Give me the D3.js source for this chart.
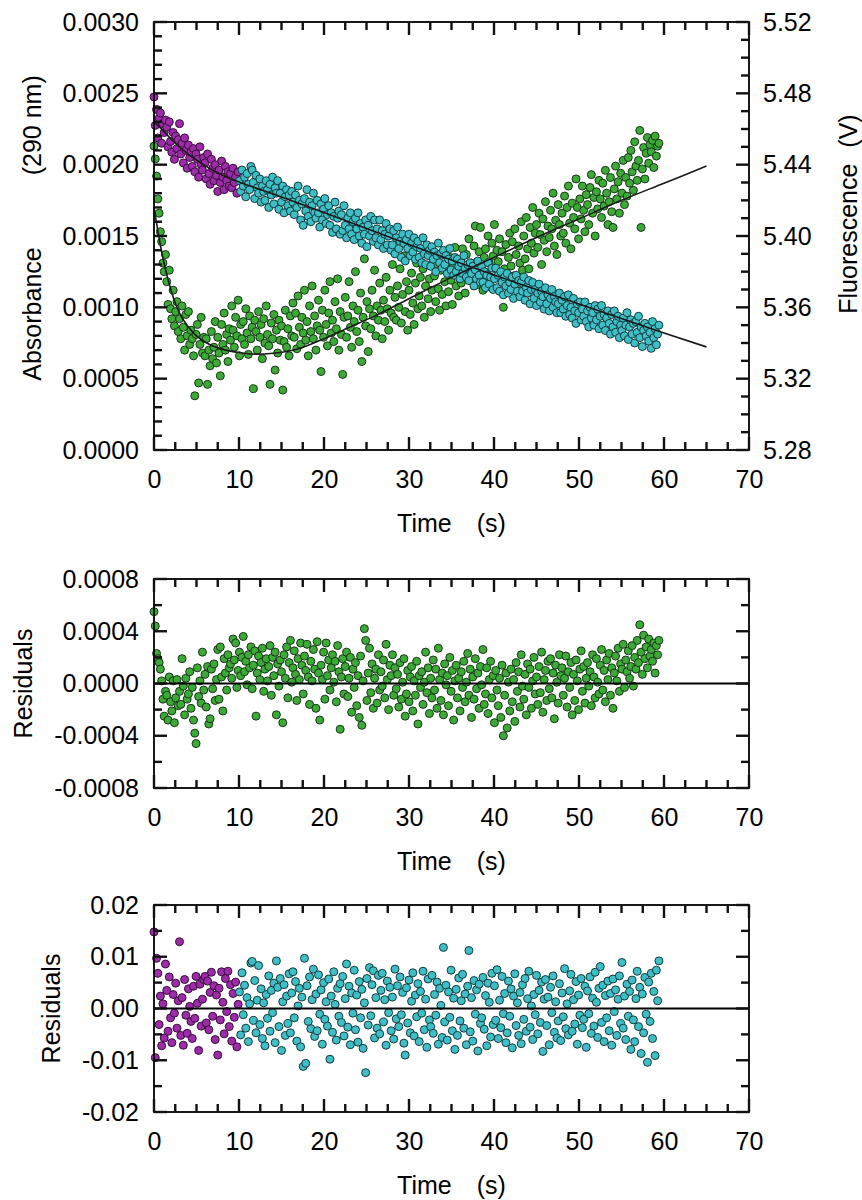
<!DOCTYPE html>
<html><head><meta charset="utf-8">
<script src="https://cdn.jsdelivr.net/npm/d3@7/dist/d3.min.js"></script>
<style>body{margin:0;background:#fff} svg{display:block}</style>
</head><body><svg id="c" width="862" height="1200" xmlns="http://www.w3.org/2000/svg"></svg>
<script>
const sampleInterval = 0.15;
const absStart = 0, fluorPreStart = 0, fluorPostStart = 10.05;
const xTicks = [0,10,20,30,40,50,60,70];
const xTickLabels = ["0","10","20","30","40","50","60","70"];
const absTicks = [0,0.0005,0.0010,0.0015,0.0020,0.0025,0.0030];
const absTickLabels = ["0.0000","0.0005","0.0010","0.0015","0.0020","0.0025","0.0030"];
const fluorTicks = [5.28,5.32,5.36,5.40,5.44,5.48,5.52];
const fluorTickLabels = ["5.28","5.32","5.36","5.40","5.44","5.48","5.52"];
const res1Ticks = [-0.0008,-0.0004,0,0.0004,0.0008];
const res1TickLabels = ["-0.0008","-0.0004","0.0000","0.0004","0.0008"];
const res2Ticks = [-0.02,-0.01,0,0.01,0.02];
const res2TickLabels = ["-0.02","-0.01","0.00","0.01","0.02"];
const absObs = [
.00213,.00204,.00192,.00176,.00166,.00153,.00146,.00131,.00125,.00137,
.00118,.00102,.00126,.00099,.00092,.00112,.00087,.00097,.00104,.00083,
.00092,.00078,.00101,.00086,.00070,.00095,.00080,.00097,.00074,.00084,
.00078,.00066,.00038,.00081,.00088,.00047,.00074,.00093,.00068,.00079,
.00066,.00078,.00046,.00070,.00059,.00083,.00064,.00072,.00090,.00061,
.00079,.00068,.00052,.00088,.00074,.00096,.00070,.00081,.00062,.00085,
.00077,.00101,.00084,.00072,.00093,.00080,.00105,.00066,.00088,.00078,
.00090,.00074,.00099,.00082,.00067,.00094,.00078,.00086,.00043,.00091,
.00083,.00070,.00097,.00079,.00088,.00064,.00092,.00075,.00101,.00081,
.00073,.00046,.00089,.00078,.00095,.00056,.00084,.00068,.00091,.00077,
.00087,.00042,.00076,.00098,.00072,.00085,.00066,.00094,.00080,.00103,
.00079,.00096,.00071,.00108,.00086,.00074,.00093,.00082,.00112,.00077,
.00090,.00066,.00101,.00083,.00115,.00078,.00094,.00070,.00087,.00105,
.00084,.00055,.00098,.00079,.00112,.00088,.00073,.00096,.00118,.00082,
.00091,.00076,.00104,.00085,.00120,.00070,.00097,.00081,.00053,.00093,
.00107,.00079,.00094,.00118,.00086,.00072,.00101,.00090,.00125,.00083,
.00098,.00076,.00110,.00062,.00093,.00134,.00087,.00104,.00069,.00099,
.00085,.00112,.00094,.00126,.00080,.00101,.00091,.00117,.00098,.00078,
.00105,.00090,.00121,.00099,.00084,.00112,.00096,.00130,.00093,.00107,
.00091,.00115,.00100,.00127,.00089,.00109,.00136,.00097,.00118,.00084,
.00112,.00095,.00124,.00103,.00088,.00117,.00131,.00099,.00108,.00121,
.00101,.00127,.00093,.00115,.00140,.00106,.00120,.00097,.00112,.00132,
.00122,.00104,.00130,.00113,.00098,.00126,.00109,.00137,.00118,.00101,
.00128,.00111,.00135,.00119,.00102,.00129,.00142,.00115,.00124,.00108,
.00133,.00117,.00141,.00126,.00110,.00137,.00122,.00148,.00119,.00131,
.00125,.00143,.00157,.00130,.00116,.00139,.00156,.00127,.00112,.00135,
.00141,.00124,.00150,.00131,.00119,.00145,.00136,.00158,.00127,.00140,
.00132,.00148,.00121,.00139,.00100,.00127,.00144,.00118,.00135,.00152,
.00129,.00146,.00122,.00155,.00137,.00116,.00143,.00131,.00160,.00126,
.00150,.00134,.00163,.00141,.00127,.00156,.00145,.00170,.00138,.00152,
.00158,.00142,.00166,.00151,.00130,.00162,.00147,.00174,.00139,.00157,
.00149,.00168,.00155,.00180,.00143,.00161,.00137,.00172,.00158,.00150,
.00166,.00152,.00178,.00145,.00170,.00185,.00159,.00141,.00173,.00163,
.00155,.00190,.00170,.00148,.00176,.00162,.00185,.00168,.00153,.00179,
.00172,.00158,.00184,.00193,.00166,.00177,.00150,.00181,.00169,.00189,
.00176,.00163,.00187,.00171,.00196,.00180,.00158,.00174,.00191,.00167,
.00156,.00183,.00199,.00176,.00188,.00166,.00194,.00180,.00203,.00172,
.00191,.00178,.00205,.00187,.00210,.00195,.00182,.00216,.00199,.00189,
.00203,.00224,.00156,.00197,.00212,.00190,.00208,.00219,.00201,.00214,
.00209,.00217,.00198,.00220,.00206,.00213,.00215];
const absResid = [
.00055,.00044,.00023,.00019,.00016,.00011,.00002,-.00012,-.00025,-.00006,
-.00009,-.00028,.00005,-.00014,-.00021,.00002,-.00030,-.00011,.00003,-.00017,
-.00006,-.00016,.00019,-.00002,-.00024,.00004,-.00012,-.00008,.00009,-.00019,
-.00003,-.00028,-.00038,-.00046,.00012,-.00010,.00002,-.00015,.00024,-.00005,
.00007,-.00018,.00013,-.00031,-.00027,.00011,-.00004,.00015,-.00013,.00003,
.00026,-.00012,.00028,.00005,-.00021,.00019,.00008,-.00005,.00022,.00012,
.00015,.00004,.00034,.00018,.00031,-.00003,.00010,.00024,.00006,.00020,
.00036,.00009,.00017,-.00001,.00022,.00012,.00028,-.00004,.00014,.00025,
-.00025,.00008,.00021,.00003,.00016,.00027,-.00006,.00011,.00019,.00002,
.00013,.00029,-.00009,.00020,.00006,.00024,-.00024,.00015,-.00002,.00018,
.00009,-.00030,.00022,.00004,.00028,-.00011,.00016,.00033,.00001,.00012,
.00025,.00007,-.00013,.00019,.00003,.00031,.00014,-.00008,.00021,.00010,
.00030,.00005,-.00016,.00017,.00002,.00026,.00011,-.00019,.00032,.00008,
-.00028,.00014,.00003,.00024,-.00012,.00031,.00006,.00018,-.00005,.00012,
.00022,.00001,.00017,-.00014,.00029,.00009,-.00035,.00005,.00019,-.00008,
.00013,.00024,-.00010,.00004,.00020,-.00022,.00011,-.00003,.00016,-.00017,
.00006,-.00026,.00021,-.00032,.00002,.00042,.00033,-.00013,.00008,.00027,
-.00007,.00015,-.00019,.00004,.00011,-.00015,.00022,-.00005,.00009,-.00002,
.00018,-.00011,.00030,.00003,-.00020,.00014,.00006,.00022,-.00009,.00012,
-.00004,.00007,-.00018,.00016,-.00012,.00001,.00019,-.00025,-.00008,.00010,
-.00014,.00005,.00013,-.00021,.00002,-.00009,.00017,-.00031,.00006,-.00003,
.00009,-.00016,.00001,.00024,-.00007,.00012,-.00023,.00004,-.00011,.00018,
-.00005,.00011,-.00019,.00027,.00003,-.00013,.00008,-.00024,.00015,-.00001,
.00006,-.00017,.00020,-.00006,.00010,-.00028,.00002,.00014,-.00011,.00004,
-.00021,.00009,-.00003,.00017,-.00014,.00001,.00023,-.00009,.00011,-.00026,
.00005,-.00012,.00019,-.00004,.00008,-.00019,.00013,-.00001,.00026,-.00016,
-.00008,.00012,-.00023,.00003,.00017,-.00011,.00006,-.00030,.00010,-.00005,
-.00017,.00004,-.00026,.00014,-.00040,-.00009,.00008,-.00034,.00001,-.00021,
.00011,-.00014,.00003,-.00029,.00016,-.00006,.00009,-.00018,.00022,-.00002,
-.00012,.00007,-.00024,.00015,-.00003,.00011,-.00019,.00002,.00020,-.00008,
.00005,-.00016,.00013,-.00007,.00024,-.00022,.00003,.00010,-.00013,.00017,
-.00004,.00019,-.00011,.00008,-.00027,.00014,.00001,-.00015,.00022,.00006,
.00012,-.00009,.00004,.00021,-.00018,.00009,-.00003,.00016,-.00024,.00007,
-.00013,.00018,.00002,-.00020,.00011,.00025,-.00006,.00013,-.00015,.00004,
.00016,-.00002,.00009,-.00017,.00022,.00005,-.00011,.00019,.00001,-.00008,
.00014,.00026,-.00005,.00010,-.00014,.00018,.00003,.00023,-.00009,.00012,
-.00019,.00008,.00021,.00002,.00027,-.00006,.00015,.00011,.00030,-.00003,
.00018,.00009,.00025,.00004,.00013,.00029,-.00002,.00020,.00011,.00033,
.00016,.00045,.00024,.00007,.00037,.00019,.00028,.00012,.00034,.00021,
.00026,.00017,.00031,.00008,.00029,.00022,.00033];
const fluorPreObs = [
5.478,5.462,5.471,5.455,5.466,5.469,5.452,5.463,5.458,5.465,
5.461,5.450,5.464,5.453,5.447,5.458,5.443,5.456,5.449,5.454,
5.463,5.446,5.452,5.441,5.455,5.448,5.438,5.451,5.444,5.447,
5.439,5.449,5.436,5.446,5.443,5.433,5.450,5.440,5.437,5.444,
5.441,5.432,5.446,5.435,5.429,5.443,5.438,5.431,5.440,5.434,
5.425,5.437,5.430,5.442,5.433,5.426,5.439,5.431,5.436,5.428,
5.435,5.427,5.438,5.430,5.433,5.424,5.436];
const fluorPostObs = [
5.431,5.425,5.437,5.428,5.433,5.422,5.435,5.429,5.426,5.439,
5.437,5.430,5.421,5.434,5.427,5.424,5.432,5.419,5.428,5.425,
5.420,5.431,5.426,5.416,5.429,5.423,5.433,5.418,5.427,5.424,
5.431,5.415,5.424,5.419,5.428,5.413,5.422,5.426,5.417,5.423,
5.414,5.425,5.419,5.412,5.423,5.416,5.428,5.420,5.409,5.418,
5.406,5.421,5.414,5.426,5.411,5.419,5.408,5.417,5.424,5.413,
5.410,5.420,5.413,5.405,5.418,5.409,5.415,5.421,5.407,5.412,
5.417,5.406,5.413,5.402,5.411,5.419,5.404,5.410,5.414,5.401,
5.412,5.403,5.417,5.406,5.399,5.410,5.404,5.413,5.401,5.408,
5.398,5.410,5.404,5.413,5.400,5.407,5.396,5.405,5.401,5.409,
5.394,5.406,5.400,5.411,5.403,5.397,5.409,5.399,5.404,5.395,
5.409,5.398,5.403,5.393,5.401,5.407,5.395,5.400,5.404,5.392,
5.395,5.403,5.390,5.399,5.405,5.393,5.397,5.388,5.401,5.396,
5.386,5.398,5.393,5.401,5.389,5.396,5.391,5.399,5.387,5.394,
5.397,5.388,5.393,5.385,5.399,5.390,5.384,5.395,5.389,5.392,
5.383,5.394,5.387,5.391,5.380,5.389,5.396,5.385,5.390,5.382,
5.392,5.384,5.389,5.379,5.387,5.393,5.381,5.386,5.378,5.388,
5.380,5.387,5.383,5.376,5.385,5.379,5.389,5.382,5.377,5.384,
5.375,5.385,5.379,5.383,5.372,5.381,5.376,5.386,5.378,5.374,
5.383,5.374,5.380,5.371,5.378,5.385,5.373,5.377,5.382,5.370,
5.376,5.382,5.371,5.378,5.369,5.380,5.374,5.367,5.377,5.372,
5.379,5.368,5.374,5.370,5.377,5.365,5.373,5.378,5.369,5.375,
5.366,5.374,5.369,5.377,5.364,5.371,5.368,5.375,5.362,5.370,
5.374,5.365,5.370,5.361,5.368,5.373,5.363,5.369,5.366,5.359,
5.371,5.362,5.367,5.358,5.365,5.370,5.360,5.366,5.363,5.357,
5.362,5.368,5.357,5.364,5.359,5.366,5.355,5.361,5.367,5.356,
5.360,5.354,5.365,5.358,5.351,5.362,5.357,5.363,5.353,5.359,
5.355,5.363,5.352,5.358,5.349,5.360,5.354,5.357,5.350,5.361,
5.353,5.359,5.348,5.355,5.361,5.350,5.356,5.347,5.354,5.358,
5.351,5.345,5.356,5.349,5.358,5.346,5.352,5.355,5.343,5.350,
5.347,5.354,5.344,5.350,5.357,5.342,5.349,5.353,5.345,5.351,
5.340,5.352,5.346,5.355,5.343,5.349,5.338,5.347,5.351,5.344,
5.349,5.341,5.346,5.337,5.352,5.343,5.348,5.339,5.345,5.350];
const fluorPreResid = [
.0148,-.0095,.0097,.0068,-.0031,.0024,-.0072,.0009,-.0057,.0086,
.0035,-.0044,.0061,-.0018,-.0066,.0027,-.0009,.0049,-.0038,.0015,
.0129,-.0052,.0021,-.0071,.0056,-.0013,-.0048,.0038,.0004,-.0025,
-.0058,.0043,-.0019,.0062,.0010,-.0081,.0047,-.0034,.0018,.0056,
.0062,-.0028,.0053,-.0041,.0031,.0070,-.0015,.0044,-.0060,.0026,
-.0090,.0039,-.0022,.0071,.0012,-.0049,.0058,-.0006,.0072,-.0035,
.0046,-.0063,.0029,-.0017,.0051,-.0074,.0008];
const fluorPostResid = [
.0032,-.0051,.0069,-.0012,.0045,-.0038,.0021,-.0064,.0009,.0088,
.0091,-.0023,.0054,-.0047,.0016,.0083,-.0031,.0038,-.0058,.0011,
-.0072,.0027,-.0019,.0063,-.0044,.0035,-.0008,.0049,-.0066,.0092,
.0041,-.0035,.0058,-.0081,.0013,.0046,-.0052,.0024,-.0029,.0067,
-.0047,.0030,.0071,-.0018,.0052,-.0063,.0005,.0039,-.0074,.0022,
-.0112,.0097,-.0106,.0044,-.0025,.0061,-.0039,.0017,.0076,-.0054,
.0028,-.0043,.0065,-.0011,.0036,-.0069,.0050,-.0021,.0013,-.0034,
.0057,-.0098,.0024,-.0046,.0071,.0008,-.0061,.0039,-.0015,.0048,
-.0027,.0062,-.0053,.0019,.0086,-.0036,.0043,-.0070,.0030,-.0009,
.0074,-.0041,.0026,-.0065,.0052,-.0018,.0037,-.0077,.0011,-.0124,
.0058,-.0032,.0079,-.0014,.0046,.0073,-.0057,.0021,-.0038,.0064,
-.0049,.0035,.0068,-.0026,.0017,-.0071,.0053,-.0008,.0041,-.0043,
.0022,-.0059,.0076,-.0020,.0044,-.0035,.0061,-.0012,.0031,-.0067,
-.0090,.0040,-.0028,.0055,-.0047,.0014,.0069,-.0053,.0026,-.0016,
.0048,-.0064,.0033,-.0009,.0072,-.0041,.0018,-.0075,.0057,-.0022,
-.0035,.0064,-.0048,.0027,-.0013,.0051,-.0069,.0039,.0006,-.0056,
.0118,-.0026,.0045,-.0061,.0032,-.0017,.0074,-.0043,.0020,-.0079,
.0037,-.0052,.0059,-.0024,.0015,.0066,-.0038,.0028,-.0070,.0043,
.0112,-.0045,.0021,-.0063,.0054,-.0011,.0036,-.0082,.0047,-.0029,
-.0018,.0060,-.0040,.0025,-.0072,.0049,.0012,-.0055,.0068,-.0031,
.0044,-.0023,.0075,-.0058,.0016,-.0037,.0062,-.0010,.0029,-.0066,
-.0047,.0053,-.0015,.0038,-.0076,.0024,.0067,-.0033,.0011,-.0052,
.0031,-.0068,.0046,-.0021,.0058,-.0044,.0019,.0072,-.0036,.0005,
-.0060,.0027,-.0012,.0064,-.0049,.0035,-.0027,.0051,-.0083,.0018,
.0056,-.0033,.0022,-.0070,.0041,-.0008,.0063,-.0046,.0013,-.0057,
-.0024,.0048,-.0062,.0030,-.0016,.0077,-.0039,.0009,-.0051,.0034,
.0066,-.0044,.0017,-.0030,.0052,-.0069,.0026,-.0013,.0058,-.0037,
-.0021,.0043,-.0075,.0034,-.0010,.0061,-.0048,.0020,-.0034,.0070,
.0012,-.0056,.0039,.0081,-.0027,.0045,-.0064,.0025,-.0018,.0053,
-.0043,.0029,-.0071,.0057,-.0006,.0036,-.0052,.0018,.0063,-.0029,
.0089,-.0038,.0024,-.0060,.0047,-.0015,.0033,-.0079,.0055,-.0022,
-.0064,.0019,.0072,-.0035,.0041,-.0087,.0028,-.0047,.0060,-.0011,
-.0104,.0051,-.0025,.0068,-.0058,.0033,-.0091,.0074,.0015,.0092];
const absFitT = [0,0.25,0.5,1,1.5,2,2.5,3,4,5,6,7,8,10,12,14,17,20,23,26,30,35,40,45,50,55,60,65];
const absFit  = [0.00170,0.00161,0.00152,0.00136,0.00123,0.00112,0.00103,0.00096,0.000865,0.000800,0.000757,0.000727,0.000707,0.000683,0.000672,0.000678,0.000710,0.000780,0.000860,0.000940,0.00106,0.00121,0.00135,0.00149,0.00162,0.00175,0.00187,0.00199];
const fluorFitT = [0,1,2,3,4,5,6,7,8,9,10,15,20,25,30,35,40,45,50,55,60,65];
const fluorFit  = [5.464,5.4594,5.4544,5.4499,5.4460,5.4426,5.4395,5.4367,5.4342,5.4321,5.4303,5.4219,5.4132,5.4042,5.3952,5.3865,5.3781,5.3700,5.3619,5.3537,5.3456,5.3378];

const FONT = '"Liberation Sans", Arial, Helvetica, sans-serif';
const FS = 25;
const X0 = 154, X1 = 749, MAJ = 13, MINT = 8, TW = 2.4;
const GREEN = {fill:"#3daa38", stroke:"#183618"};
const MAGENTA = {fill:"#9c2ca8", stroke:"#380d3c"};
const CYAN = {fill:"#3fbec6", stroke:"#123a3e"};
const R = 4;

const svg = d3.select("#c");
svg.append("rect").attr("x",0).attr("y",0).attr("width",862).attr("height",1200).attr("fill","#fff");
const x = d3.scaleLinear().domain([0,70]).range([X0,X1]);
const xMinor = d3.range(2.5,70,2.5).filter(v => v % 10 !== 0);
const tAt = (start, i) => Math.round((start + i*sampleInterval)*1000)/1000;
const series = (start, vals) => vals.map((v,i) => [tAt(start,i), v]);
const tickLayer = [];

function labelsOnly(axisFn, scale, values, labels, pad, tx, ty){
  const g = svg.append("g").attr("transform",`translate(${tx},${ty})`)
    .call(axisFn(scale).tickValues(values).tickFormat((d,i)=>labels[i]).tickSize(0).tickPadding(pad));
  g.select(".domain").remove();
  g.selectAll(".tick line").remove();
  g.attr("font-size",FS).attr("font-family",FONT);
  g.selectAll(".tick text").attr("fill","#000");
}
// tick marks stored as small filled rectangles, positioned from the scales
function tickPath(values, scale, orient, base, len){
  values.forEach(v => {
    const p = scale(v);
    if (orient === "x") tickLayer.push({x:p - TW/2, y:Math.min(base, base+len), w:TW, h:Math.abs(len)});
    else tickLayer.push({x:Math.min(base, base+len), y:p - TW/2, w:Math.abs(len), h:TW});
  });
}
function panel(y, top, bottom, yMaj, yLab, yMin, right){
  tickPath(xMinor, x, "x", bottom, -MINT);
  tickPath(xTicks, x, "x", bottom, -MAJ);
  tickPath(xMinor, x, "x", top, MINT);
  tickPath(xTicks, x, "x", top, MAJ);
  tickPath(yMin, y, "y", X0, MINT);
  tickPath(yMaj, y, "y", X0, MAJ);
  if (right){
    tickPath(right.minor, right.scale, "y", X1, -MINT);
    tickPath(right.major, right.scale, "y", X1, -MAJ);
    labelsOnly(d3.axisRight, right.scale, right.major, right.labels, 14, X1, 0);
  } else {
    tickPath(yMin, y, "y", X1, -MINT);
    tickPath(yMaj, y, "y", X1, -MAJ);
  }
  labelsOnly(d3.axisBottom, x, xTicks, xTickLabels, 20, 0, bottom);
  labelsOnly(d3.axisLeft, y, yMaj, yLab, 15, X0, 0);
  svg.append("rect").attr("x",X0).attr("y",top).attr("width",X1-X0).attr("height",bottom-top)
    .attr("fill","none").attr("stroke","#000").attr("stroke-width",1.8);
  const t = svg.append("text").attr("x",(X0+X1)/2).attr("y",bottom+82)
    .attr("text-anchor","middle").attr("font-family",FONT).attr("font-size",FS).attr("fill","#000");
  t.append("tspan").text("Time");
  t.append("tspan").attr("dx",25).text("(s)");
}
function dots(g, data, yScale, col){
  g.append("g").selectAll("circle").data(data).join("circle")
    .attr("cx",d=>x(d[0])).attr("cy",d=>yScale(d[1])).attr("r",R)
    .attr("fill",col.fill).attr("stroke",col.stroke).attr("stroke-width",1);
}
function yTitle(cx, cy, parts, gap){
  const t = svg.append("text").attr("transform",`translate(${cx},${cy}) rotate(-90)`)
    .attr("text-anchor","middle").attr("font-family",FONT).attr("font-size",FS).attr("fill","#000");
  t.append("tspan").text(parts[0]);
  if (parts[1]) t.append("tspan").attr("dx",gap).text(parts[1]);
}

const P1 = {top:22, bottom:450};
const yAbs = d3.scaleLinear().domain([0,0.003]).range([P1.bottom,P1.top]);
const yFl = d3.scaleLinear().domain([5.28,5.52]).range([P1.bottom,P1.top]);
const g1 = svg.append("g");
dots(g1, series(absStart, absObs), yAbs, GREEN);
dots(g1, series(fluorPreStart, fluorPreObs), yFl, MAGENTA);
dots(g1, series(fluorPostStart, fluorPostObs), yFl, CYAN);
g1.append("path").attr("d", d3.line().curve(d3.curveMonotoneX).x(d=>x(d[0])).y(d=>yAbs(d[1]))(absFitT.map((t,i)=>[t,absFit[i]])))
  .attr("fill","none").attr("stroke","#1a1a1a").attr("stroke-width",1.6);
g1.append("path").attr("d", d3.line().curve(d3.curveMonotoneX).x(d=>x(d[0])).y(d=>yFl(d[1]))(fluorFitT.map((t,i)=>[t,fluorFit[i]])))
  .attr("fill","none").attr("stroke","#1a1a1a").attr("stroke-width",1.6);
panel(yAbs, P1.top, P1.bottom, absTicks, absTickLabels,
  d3.range(1,30).filter(k=>k%5).map(k=>k*0.0001),
  {scale:yFl, major:fluorTicks, labels:fluorTickLabels, minor:d3.range(1,24).filter(k=>k%4).map(k=>5.28+k*0.01)});
yTitle(41, 228, ["Absorbance","(290 nm)"], 72);
yTitle(857, 214, ["Fluorescence","(V)"], 16);

const P2 = {top:579, bottom:788};
const yR1 = d3.scaleLinear().domain([-0.0008,0.0008]).range([P2.bottom,P2.top]);
const g2 = svg.append("g");
dots(g2, series(absStart, absResid), yR1, GREEN);
g2.append("path").attr("d", `M${X0},${yR1(0)}H${X1}`).attr("stroke","#000").attr("stroke-width",2);
panel(yR1, P2.top, P2.bottom, res1Ticks, res1TickLabels, [-0.0006,-0.0002,0.0002,0.0006]);
yTitle(31.5, 683.5, ["Residuals"], 0);

const P3 = {top:905, bottom:1112};
const yR2 = d3.scaleLinear().domain([-0.02,0.02]).range([P3.bottom,P3.top]);
const g3 = svg.append("g");
dots(g3, series(fluorPreStart, fluorPreResid), yR2, MAGENTA);
dots(g3, series(fluorPostStart, fluorPostResid), yR2, CYAN);
g3.append("path").attr("d", `M${X0},${yR2(0)}H${X1}`).attr("stroke","#000").attr("stroke-width",2);
panel(yR2, P3.top, P3.bottom, res2Ticks, res2TickLabels, [-0.015,-0.005,0.005,0.015]);
yTitle(60, 1008.5, ["Residuals"], 0);

// all tick marks, drawn last on top of everything
svg.append("g").attr("id","ticks").selectAll("rect").data(tickLayer).join("rect")
  .attr("x",d=>d.x).attr("y",d=>d.y).attr("width",d=>d.w).attr("height",d=>d.h)
  .attr("fill","#111");
</script></body></html>
